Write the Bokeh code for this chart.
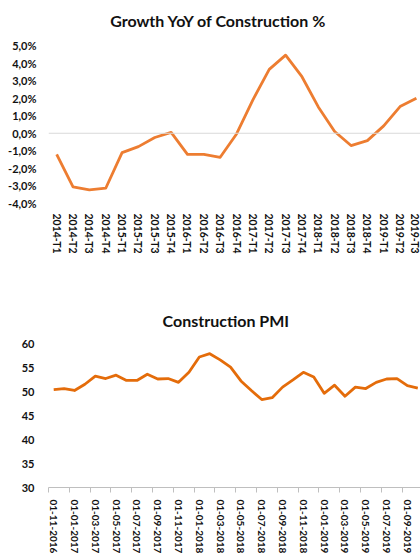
from bokeh.plotting import figure
from bokeh.layouts import column
from bokeh.models import Range1d, FixedTicker, Span, Label
from bokeh.embed import file_html
from bokeh.resources import INLINE

# ---------------- data ----------------
quarters = ["2014-T1", "2014-T2", "2014-T3", "2014-T4",
            "2015-T1", "2015-T2", "2015-T3", "2015-T4",
            "2016-T1", "2016-T2", "2016-T3", "2016-T4",
            "2017-T1", "2017-T2", "2017-T3", "2017-T4",
            "2018-T1", "2018-T2", "2018-T3", "2018-T4",
            "2019-T1", "2019-T2", "2019-T3"]
growth = [-1.2, -3.05, -3.22, -3.13,
          -1.1, -0.76, -0.24, 0.05,
          -1.2, -1.2, -1.37, -0.04,
          1.9, 3.64, 4.45, 3.22,
          1.5, 0.1, -0.7, -0.42,
          0.42, 1.52, 2.0]
growth_ticks = [-4, -3, -2, -1, 0, 1, 2, 3, 4, 5]
growth_tick_labels = ["-4,0%", "-3,0%", "-2,0%", "-1,0%", "0,0%",
                      "1,0%", "2,0%", "3,0%", "4,0%", "5,0%"]

months = ["01-11-2016", "01-12-2016",
          "01-01-2017", "01-02-2017", "01-03-2017", "01-04-2017", "01-05-2017", "01-06-2017",
          "01-07-2017", "01-08-2017", "01-09-2017", "01-10-2017", "01-11-2017", "01-12-2017",
          "01-01-2018", "01-02-2018", "01-03-2018", "01-04-2018", "01-05-2018", "01-06-2018",
          "01-07-2018", "01-08-2018", "01-09-2018", "01-10-2018", "01-11-2018", "01-12-2018",
          "01-01-2019", "01-02-2019", "01-03-2019", "01-04-2019", "01-05-2019", "01-06-2019",
          "01-07-2019", "01-08-2019", "01-09-2019", "01-10-2019"]
pmi = [50.5, 50.7, 50.3, 51.6, 53.3, 52.8, 53.5, 52.4, 52.4, 53.7, 52.7, 52.8,
       52.0, 54.1, 57.3, 58.0, 56.7, 55.2, 52.3, 50.3, 48.4, 48.8, 51.0, 52.5,
       54.1, 53.1, 49.7, 51.4, 49.1, 51.0, 50.7, 52.0, 52.7, 52.8, 51.3, 50.8]
pmi_ticks = [30, 35, 40, 45, 50, 55, 60]

FONT = "Lato"
TXT = "#111111"


def style_axis(ax, size, standoff):
    ax.axis_line_color = None
    ax.major_tick_line_color = None
    ax.minor_tick_line_color = None
    ax.major_tick_out = 0
    ax.major_tick_in = 0
    ax.minor_tick_out = 0
    ax.minor_tick_in = 0
    ax.major_label_standoff = standoff
    ax.major_label_text_font = FONT
    ax.major_label_text_font_style = "bold"
    ax.major_label_text_font_size = size
    ax.major_label_text_color = TXT


# ---------------- top chart ----------------
xq = list(range(len(quarters)))
p1 = figure(width=420, height=290, output_backend="svg", toolbar_location=None,
            x_range=Range1d(-0.5, 22.25), y_range=Range1d(-4, 7.56),
            min_border_left=48, min_border_right=0, min_border_top=0, min_border_bottom=87)
p1.outline_line_color = None
p1.grid.visible = False
p1.add_layout(Span(location=0, dimension="width", line_color="#d9d9d9", line_width=1))
p1.line(xq, growth, line_color="#ED7D31", line_width=2.8, line_join="round")

p1.xaxis.ticker = FixedTicker(ticks=xq)
p1.xaxis.major_label_overrides = {i: q for i, q in zip(xq, quarters)}
p1.xaxis.major_label_orientation = "vertical"
style_axis(p1.xaxis[0], "10.5px", 10)

p1.yaxis.ticker = FixedTicker(ticks=growth_ticks)
p1.yaxis.major_label_overrides = {t: l for t, l in zip(growth_ticks, growth_tick_labels)}
style_axis(p1.yaxis[0], "11px", 12)

p1.add_layout(Label(x=9.9, y=6.42, x_units="data", y_units="data",
                    text="Growth YoY of Construction %", text_align="center",
                    text_baseline="middle", text_font=FONT, text_font_style="bold",
                    text_font_size="16px", text_color=TXT))

# ---------------- bottom chart ----------------
xm = list(range(len(months)))
p2 = figure(width=420, height=266, output_backend="svg", toolbar_location=None,
            x_range=Range1d(-0.5, 35.26), y_range=Range1d(30, 71.22),
            min_border_left=32, min_border_right=0, min_border_top=0, min_border_bottom=69)
p2.outline_line_color = None
p2.grid.visible = False
p2.line(xm, pmi, line_color="#E46C0A", line_width=2.8, line_join="round")

label_idx = xm[::2]
p2.xaxis.ticker = FixedTicker(ticks=label_idx,
                              minor_ticks=[i - 0.5 for i in label_idx] + [label_idx[-1] + 1.5])
p2.xaxis.major_label_overrides = {i: months[i] for i in label_idx}
p2.xaxis.major_label_orientation = "vertical"
style_axis(p2.xaxis[0], "10px", 7)
p2.xaxis.axis_line_color = "#bfbfbf"
p2.xaxis.axis_line_width = 1
p2.xaxis.minor_tick_line_color = "#bfbfbf"
p2.xaxis.minor_tick_out = 5

p2.yaxis.ticker = FixedTicker(ticks=pmi_ticks)
style_axis(p2.yaxis[0], "11px", 14)

p2.add_layout(Label(x=16.55, y=64.95, x_units="data", y_units="data",
                    text="Construction PMI", text_align="center",
                    text_baseline="middle", text_font=FONT, text_font_style="bold",
                    text_font_size="16px", text_color=TXT))

layout = column(p1, p2, spacing=0)
open("out.html", "w").write(file_html(layout, INLINE))
